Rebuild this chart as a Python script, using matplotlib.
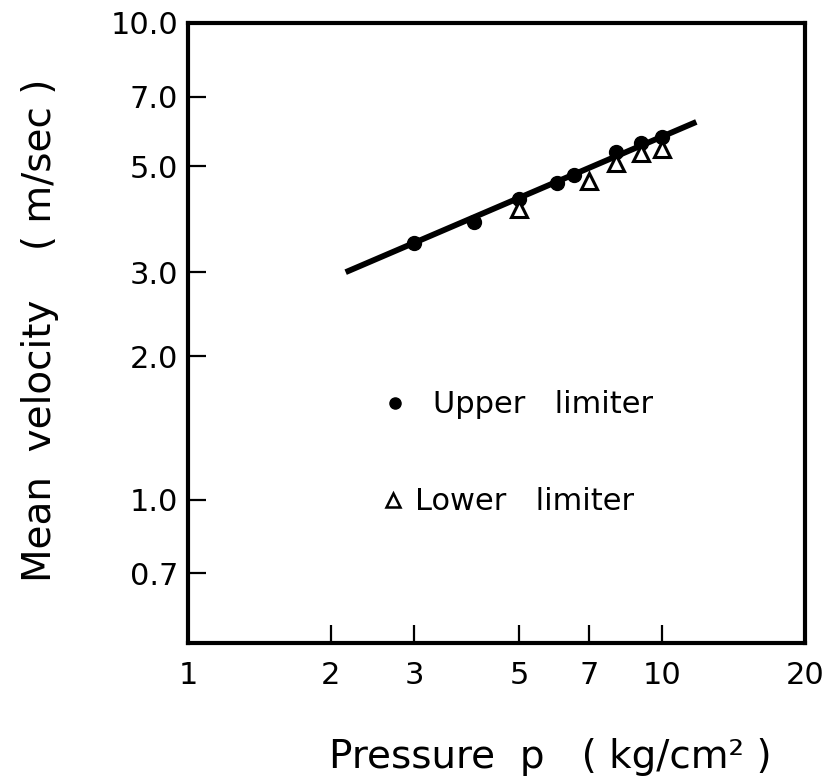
import matplotlib
matplotlib.use("Agg")
import matplotlib.pyplot as plt
from matplotlib.ticker import FixedLocator, NullLocator

# measured mean velocity vs. pressure
p_upper = [3, 4, 5, 6, 6.5, 8, 9, 10]
v_upper = [3.45, 3.82, 4.28, 4.61, 4.79, 5.37, 5.59, 5.77]
p_lower = [5, 7, 8, 9, 10]
v_lower = [4.08, 4.66, 5.08, 5.33, 5.43]

# power-law fit line (straight on log-log)
p_fit = [2.15, 11.8]
v_fit = [3.0, 6.2]

x_ticks = [1, 2, 3, 5, 7, 10, 20]
x_ticklabels = ["1", "2", "3", "5", "7", "10", "20"]
y_ticks = [0.7, 1.0, 2.0, 3.0, 5.0, 7.0, 10.0]
y_ticklabels = ["0.7", "1.0", "2.0", "3.0", "5.0", "7.0", "10.0"]

plt.rcParams['font.family'] = ['DejaVu Sans']

fig = plt.figure(figsize=(8.35, 7.8), dpi=100)
ax = fig.add_axes([188 / 835, 1 - 643 / 780, 617 / 835, 620 / 780])

ax.plot(p_fit, v_fit, color='black', lw=4.2, solid_capstyle='butt', zorder=2)
ax.plot(p_upper, v_upper, 'o', color='black', ms=10, zorder=3)
ax.plot(p_lower, v_lower, '^', mfc='white', mec='black', mew=2.2, ms=12, zorder=4)

ax.set_xscale('log')
ax.set_yscale('log')
ax.set_xlim(1, 20)
ax.set_ylim(0.5, 10)

ax.xaxis.set_major_locator(FixedLocator(x_ticks))
ax.yaxis.set_major_locator(FixedLocator(y_ticks))
ax.xaxis.set_minor_locator(NullLocator())
ax.yaxis.set_minor_locator(NullLocator())
ax.set_xticklabels(x_ticklabels)
ax.set_yticklabels(y_ticklabels)

ax.tick_params(axis='both', direction='in', length=13, width=1.6, labelsize=22)
ax.tick_params(axis='x', pad=13)
ax.tick_params(axis='y', pad=7)
for s in ax.spines.values():
    s.set_linewidth(3)

# legend drawn by hand inside the axes
ax.plot([0.335], [0.387], 'o', color='black', ms=8, transform=ax.transAxes, clip_on=False)
ax.text(0.397, 0.384, "Upper   limiter", transform=ax.transAxes, fontsize=22,
        va='center', ha='left')
ax.plot([0.332], [0.231], '^', mfc='white', mec='black', mew=1.8, ms=10,
        transform=ax.transAxes, clip_on=False)
ax.text(0.368, 0.229, "Lower   limiter", transform=ax.transAxes, fontsize=22,
        va='center', ha='left')

fig.text(550 / 835, 1 - 757 / 780, "Pressure  p   ( kg/cm² )", fontsize=28,
         ha='center', va='center')
fig.text(40 / 835, 1 - 330 / 780, "Mean  velocity    ( m/sec )", fontsize=28,
         ha='center', va='center', rotation=90)

fig.savefig("out.png", dpi=100)
